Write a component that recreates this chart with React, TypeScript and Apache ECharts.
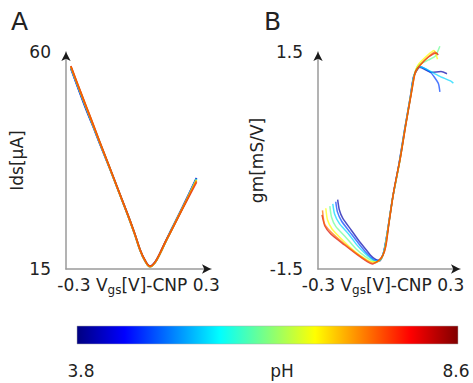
import React, { useEffect, useRef } from "react";
import * as echarts from "echarts";

// ---------- data ----------
const PH_RANGE = [3.8, 8.6];
const PH_LABEL = "pH";
const PH_VALUES = [4.0, 4.7, 5.4, 6.1, 6.8, 7.5, 8.2];
const DRAW_ORDER = [0, 1, 2, 3, 4, 6, 5];

const X_TICKS = ["-0.3", "0.3"];
const X_RANGE = [-0.3, 0.3];
const IDS_TICKS = [15, 60];
const GM_TICKS = [-1.5, 1.5];

// Panel A: Ids vs Vgs-CNP
const VGS_A = [-0.28, -0.25, -0.217, -0.1885, -0.162, -0.121, -0.079, -0.0375, -0.014, 0.006, 0.026, 0.048, 0.068, 0.089, 0.11, 0.13, 0.163, 0.2, 0.24];
const IDS_40 = [56.6, 52.5, 48.1, 44.6, 41.2, 36.1, 30.7, 25.3, 22.0, 19.0, 16.8, 15.6, 16.4, 18.3, 20.5, 22.6, 25.9, 29.7, 33.9];
const IDS_47 = [56.7, 52.6, 48.3, 44.7, 41.3, 36.1, 30.7, 25.3, 22.0, 19.0, 16.8, 15.5, 16.3, 18.2, 20.4, 22.5, 25.8, 29.6, 33.8];
const IDS_54 = [56.8, 52.8, 48.5, 44.8, 41.4, 36.2, 30.7, 25.3, 22.0, 19.0, 16.8, 15.5, 16.3, 18.2, 20.4, 22.5, 25.8, 29.5, 33.7];
const IDS_61 = [56.9, 52.9, 48.6, 44.9, 41.5, 36.2, 30.7, 25.3, 22.0, 19.0, 16.8, 15.5, 16.3, 18.2, 20.4, 22.4, 25.7, 29.4, 33.6];
const IDS_68 = [57.0, 53.0, 48.7, 45.0, 41.5, 36.2, 30.7, 25.3, 22.0, 19.0, 16.8, 15.5, 16.3, 18.2, 20.4, 22.4, 25.7, 29.4, 33.5];
const IDS_75 = [57.0, 53.0, 48.7, 45.0, 41.5, 36.2, 30.7, 25.3, 22.0, 19.0, 16.8, 15.5, 16.3, 18.2, 20.4, 22.4, 25.7, 29.4, 33.3];
const IDS_82 = [57.1, 53.1, 48.8, 45.1, 41.6, 36.3, 30.8, 25.4, 22.1, 19.1, 16.9, 15.6, 16.4, 18.3, 20.5, 22.4, 25.6, 29.2, 33.0];
const IDS_ALL = [IDS_40, IDS_47, IDS_54, IDS_61, IDS_68, IDS_75, IDS_82];

// Panel B: gm vs Vgs-CNP, [x, y] pairs
const GM_40 = [[-0.217, -0.54], [-0.21, -0.68], [-0.195, -0.8], [-0.16, -0.96], [-0.125, -1.12], [-0.095, -1.24], [-0.078, -1.31], [-0.06, -1.36], [-0.04, -1.39], [-0.023, -1.27], [-0.007, -0.99], [0.014, -0.54], [0.042, -0.05], [0.065, 0.41], [0.09, 0.88], [0.104, 1.16], [0.13, 1.29], [0.18, 1.22], [0.22, 1.23], [0.245, 1.2]];
const GM_47 = [[-0.225, -0.57], [-0.218, -0.71], [-0.2, -0.84], [-0.165, -0.99], [-0.13, -1.14], [-0.1, -1.26], [-0.08, -1.33], [-0.06, -1.38], [-0.038, -1.38], [-0.021, -1.25], [-0.006, -0.97], [0.015, -0.52], [0.043, -0.04], [0.066, 0.42], [0.091, 0.89], [0.105, 1.17], [0.13, 1.3], [0.175, 1.22], [0.208, 1.07], [0.215, 0.95]];
const GM_54 = [[-0.2375, -0.6], [-0.23, -0.74], [-0.21, -0.87], [-0.17, -1.02], [-0.135, -1.17], [-0.1, -1.29], [-0.078, -1.35], [-0.058, -1.39], [-0.036, -1.37], [-0.02, -1.24], [-0.005, -0.96], [0.016, -0.51], [0.044, -0.03], [0.067, 0.43], [0.092, 0.9], [0.106, 1.18], [0.128, 1.3], [0.16, 1.26], [0.21, 1.17], [0.26, 1.1], [0.272, 1.07]];
const GM_61 = [[-0.25, -0.63], [-0.243, -0.78], [-0.225, -0.91], [-0.18, -1.07], [-0.14, -1.22], [-0.1, -1.33], [-0.075, -1.38], [-0.055, -1.41], [-0.033, -1.36], [-0.018, -1.22], [-0.004, -0.94], [0.017, -0.49], [0.045, -0.02], [0.068, 0.45], [0.093, 0.92], [0.107, 1.19], [0.125, 1.32], [0.167, 1.39], [0.195, 1.44], [0.215, 1.58]];
const GM_68 = [[-0.267, -0.66], [-0.26, -0.82], [-0.24, -0.95], [-0.19, -1.12], [-0.14, -1.27], [-0.1, -1.36], [-0.075, -1.4], [-0.05, -1.4], [-0.03, -1.34], [-0.016, -1.2], [-0.003, -0.92], [0.018, -0.47], [0.046, 0.0], [0.069, 0.46], [0.094, 0.93], [0.108, 1.19], [0.125, 1.33], [0.165, 1.46], [0.19, 1.52], [0.205, 1.4]];
const GM_75 = [[-0.281, -0.69], [-0.273, -0.87], [-0.245, -0.99], [-0.19, -1.15], [-0.135, -1.29], [-0.095, -1.38], [-0.068, -1.42], [-0.045, -1.39], [-0.027, -1.32], [-0.014, -1.19], [-0.002, -0.9], [0.019, -0.45], [0.047, 0.02], [0.07, 0.48], [0.095, 0.95], [0.11, 1.2], [0.13, 1.31], [0.165, 1.43], [0.195, 1.5], [0.203, 1.47]];
const GM_82 = [[-0.283, -0.753], [-0.271, -0.906], [-0.246, -1.016], [-0.1875, -1.168], [-0.133, -1.306], [-0.092, -1.399], [-0.071, -1.431], [-0.042, -1.376], [-0.025, -1.306], [-0.0125, -1.168], [0.0, -0.864], [0.021, -0.408], [0.049, 0.053], [0.072, 0.514], [0.097, 0.975], [0.111, 1.224], [0.132, 1.32], [0.167, 1.431], [0.2, 1.486], [0.208, 1.459]];
const GM_ALL = [GM_40, GM_47, GM_54, GM_61, GM_68, GM_75, GM_82];

// ---------- helpers ----------
const FONT = "DejaVu Sans";
const TXT = "#222";
const AXIS_GRAY = "#9a9a9a";

function jet(v: number): string {
  const t = (v - PH_RANGE[0]) / (PH_RANGE[1] - PH_RANGE[0]);
  const c = (x: number) => Math.max(0, Math.min(1, x));
  const r = c(1.5 - Math.abs(4 * t - 3));
  const g = c(1.5 - Math.abs(4 * t - 2));
  const b = c(1.5 - Math.abs(4 * t - 1));
  return `rgb(${Math.round(r * 255)},${Math.round(g * 255)},${Math.round(b * 255)})`;
}

const JET_STOPS = [
  { offset: 0, color: "#000080" },
  { offset: 0.125, color: "#0000ff" },
  { offset: 0.375, color: "#00ffff" },
  { offset: 0.625, color: "#ffff00" },
  { offset: 0.875, color: "#ff0000" },
  { offset: 1, color: "#800000" },
];

const xName = `{a|${X_TICKS[0]} V}{s|gs}{a|[V]-CNP ${X_TICKS[1]}}`;
const xNameStyle = (padRight: number) => ({
  padding: [0, padRight, 0, 0],
  rich: {
    a: { fontSize: 17, fontFamily: FONT, color: TXT, lineHeight: 20 },
    s: { fontSize: 12, fontFamily: FONT, color: TXT, lineHeight: 12, padding: [9, 0, 0, 0] },
  },
});

function mainX(grid: number, padRight: number) {
  return {
    gridIndex: grid,
    type: "value",
    min: X_RANGE[0],
    max: X_RANGE[1],
    position: "bottom",
    axisLine: { onZero: false, lineStyle: { color: AXIS_GRAY, width: 1.5 } },
    axisTick: { show: false },
    axisLabel: { show: false },
    splitLine: { show: false },
    name: xName,
    nameLocation: "middle",
    nameGap: 6,
    nameTextStyle: xNameStyle(padRight),
  };
}
function arrowX(grid: number) {
  return {
    gridIndex: grid,
    type: "value",
    min: X_RANGE[0],
    max: X_RANGE[1],
    position: "bottom",
    axisLine: { onZero: false, symbol: ["none", "arrow"], symbolSize: [7, 9], lineStyle: { color: "#1a1a1a", width: 0 } },
    axisTick: { show: false },
    axisLabel: { show: false },
    splitLine: { show: false },
  };
}
function mainY(grid: number, ticks: number[], name: string) {
  return {
    gridIndex: grid,
    type: "value",
    min: ticks[0],
    max: ticks[1],
    position: "left",
    axisLine: { onZero: false, lineStyle: { color: AXIS_GRAY, width: 1.5 } },
    axisTick: { show: false },
    axisLabel: { customValues: ticks, margin: 15, fontSize: 17, fontFamily: FONT, color: TXT },
    splitLine: { show: false },
    name,
    nameLocation: "middle",
    nameGap: 24,
    nameRotate: 90,
    nameTextStyle: { fontSize: 17, fontFamily: FONT, color: TXT },
  };
}
function arrowY(grid: number, ticks: number[]) {
  return {
    gridIndex: grid,
    type: "value",
    min: ticks[0],
    max: ticks[1],
    position: "left",
    axisLine: { onZero: false, symbol: ["none", "arrow"], symbolSize: [7, 9], lineStyle: { color: "#1a1a1a", width: 0 } },
    axisTick: { show: false },
    axisLabel: { show: false },
    splitLine: { show: false },
  };
}

export default function App() {
  const ref = useRef<HTMLDivElement>(null);
  useEffect(() => {
    if (!ref.current) return;
    const chart = echarts.init(ref.current, undefined, { renderer: "svg" });

    const series: any[] = [];
    DRAW_ORDER.forEach((i) => {
      series.push({
        type: "line",
        xAxisIndex: 0,
        yAxisIndex: 0,
        data: VGS_A.map((x, k) => [x, IDS_ALL[i][k]]),
        showSymbol: false,
        smooth: 0.4,
        clip: false,
        lineStyle: { color: jet(PH_VALUES[i]), width: 1.8, opacity: 0.75 },
        silent: true,
      });
    });
    DRAW_ORDER.forEach((i) => {
      series.push({
        type: "line",
        xAxisIndex: 1,
        yAxisIndex: 1,
        data: GM_ALL[i],
        showSymbol: false,
        smooth: 0.2,
        clip: false,
        lineStyle: { color: jet(PH_VALUES[i]), width: 1.5, opacity: 0.7 },
        silent: true,
      });
    });

    chart.setOption({
      animation: false,
      backgroundColor: "#ffffff",
      grid: [
        { left: 66, top: 52, width: 145, height: 217 },
        { left: 318, top: 52, width: 142, height: 217 },
      ],
      xAxis: [mainX(0, 0), mainX(1, 12), arrowX(0), arrowX(1)],
      yAxis: [mainY(0, IDS_TICKS, "Ids[μA]"), mainY(1, GM_TICKS, "gm[mS/V]"), arrowY(0, IDS_TICKS), arrowY(1, GM_TICKS)],
      series,
      graphic: [
        { type: "text", x: 11, y: 21, style: { text: "A", fontSize: 25, fontFamily: FONT, fill: TXT, verticalAlign: "middle" } },
        { type: "text", x: 264, y: 21, style: { text: "B", fontSize: 25, fontFamily: FONT, fill: TXT, verticalAlign: "middle" } },
        {
          type: "rect",
          shape: { x: 77, y: 326, width: 381, height: 18 },
          style: { fill: new echarts.graphic.LinearGradient(0, 0, 1, 0, JET_STOPS), stroke: "#aaa", lineWidth: 0.5 },
        },
        { type: "text", x: 81, y: 371, style: { text: String(PH_RANGE[0]), fontSize: 17, fontFamily: FONT, fill: TXT, align: "center", verticalAlign: "middle" } },
        { type: "text", x: 282, y: 371, style: { text: PH_LABEL, fontSize: 17, fontFamily: FONT, fill: TXT, align: "center", verticalAlign: "middle" } },
        { type: "text", x: 456, y: 371, style: { text: String(PH_RANGE[1]), fontSize: 17, fontFamily: FONT, fill: TXT, align: "center", verticalAlign: "middle" } },
      ],
    });
    return () => chart.dispose();
  }, []);
  return <div ref={ref} style={{ position: "fixed", left: 0, top: 0, width: 473, height: 383, background: "#fff" }} />;
}
